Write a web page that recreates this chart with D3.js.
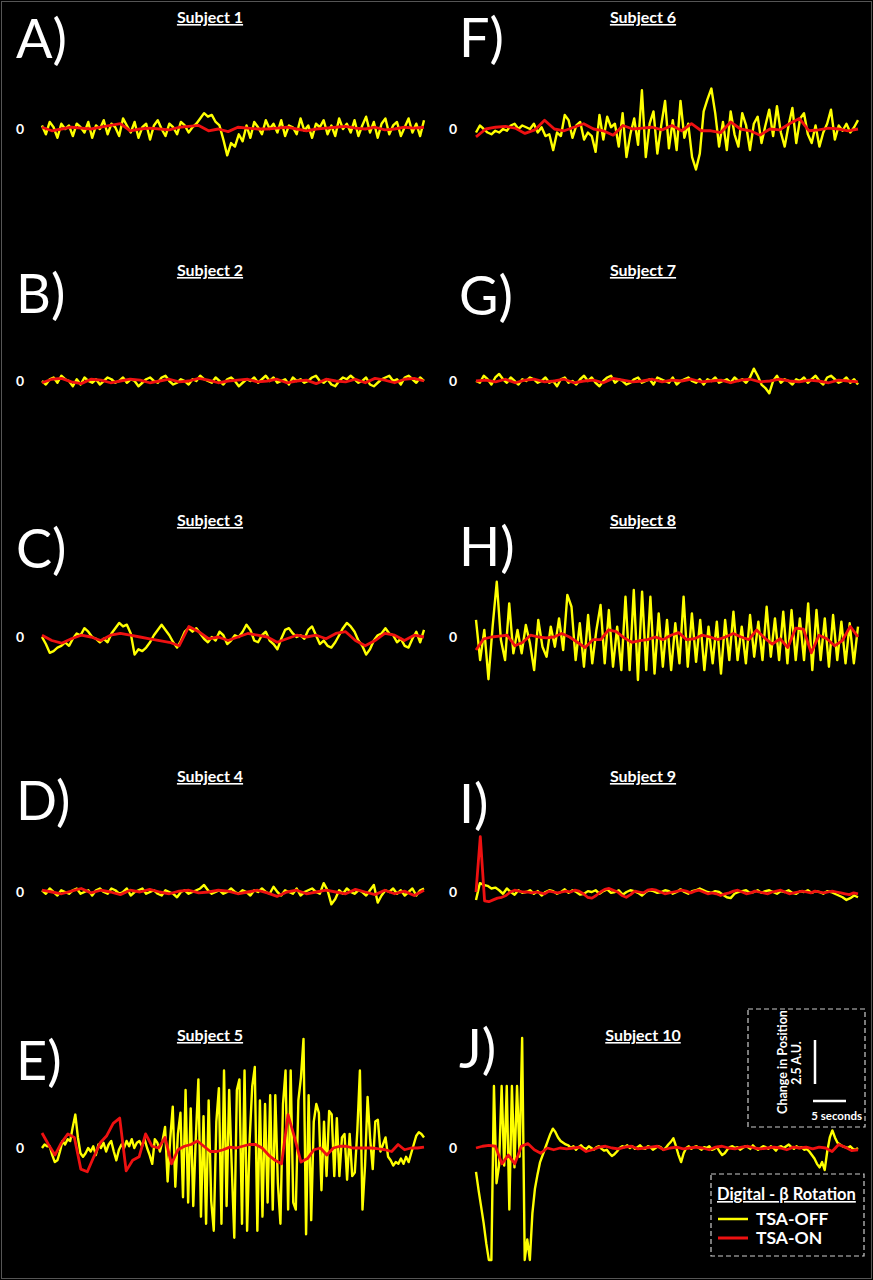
<!DOCTYPE html>
<html>
<head>
<meta charset="utf-8">
<script src="https://cdn.jsdelivr.net/npm/d3@7"></script>
<style>
    body { margin: 0; background: #000; }
    svg { display: block; }
</style>
</head>
<body>
<script>
// data (A.U., one value per sample, samples spread evenly over 60 s)

var letters = ['A)', 'B)', 'C)', 'D)', 'E)', 'F)', 'G)', 'H)', 'I)', 'J)'];
var subjects = ['Subject 1', 'Subject 2', 'Subject 3', 'Subject 4', 'Subject 5',
    'Subject 6', 'Subject 7', 'Subject 8', 'Subject 9', 'Subject 10'];
var legendTitle = 'Digital - β Rotation';
var seriesNames = ['TSA-OFF', 'TSA-ON'];
var zeroLabel = '0';
var scaleBarAU = 2.5;
var scaleBarSec = 5;
var duration = 60;

var off1 = [0.2, -0.3, 0.4, 0.1, -0.5, 0.3, 0.0, 0.2, -0.4, 0.3,
    0.1, -0.2, 0.4, -0.5, 0.2, 0.0, 0.5, -0.3, 0.3, 0.1,
    -0.4, 0.6, 0.2, -0.2, 0.4, -0.5, 0.1, 0.3, -0.6, 0.2,
    0.5, 0.0, -0.4, 0.3, 0.1, -0.3, 0.4, 0.2, -0.2, 0.1,
    0.3, 0.6, 0.9, 0.7, 0.8, 0.4, 0.2, -0.6, -1.5, -0.8,
    -1.0, -0.3, -0.7, 0.2, -0.5, 0.4, 0.1, -0.3, 0.5, 0.0,
    0.3, -0.2, 0.5, -0.4, 0.2, 0.1, -0.3, 0.6, -0.1, 0.2,
    -0.5, 0.3, 0.1, 0.5, -0.3, 0.2, -0.4, 0.6, 0.0, 0.3,
    -0.2, 0.5, -0.4, 0.2, 0.7, -0.2, 0.4, -0.5, 0.3, 0.6,
    -0.3, 0.2, 0.4, -0.4, 0.1, 0.6, -0.2, 0.3, -0.4, 0.5];
var on1 = [0.1, -0.1, 0.0, 0.1, 0.05, 0.0, 0.1, 0.2, 0.3, -0.1,
    0.0, 0.05, 0.0, -0.05, 0.1, 0.15, 0.2, -0.1, 0.0, -0.15,
    0.1, 0.05, 0.0, 0.0, 0.05, 0.1, 0.0, -0.1, 0.0, 0.05,
    0.1, 0.15, 0.05, 0.0, 0.1, -0.05, 0.0, 0.1, 0.05, 0.1];

var off2 = [0.0, -0.2, 0.1, 0.2, -0.1, 0.3, 0.1, 0.0, -0.3, 0.1,
    -0.2, 0.2, 0.0, -0.1, 0.1, -0.2, 0.0, 0.2, 0.1, -0.1,
    0.0, 0.2, -0.1, 0.1, 0.0, -0.3, -0.1, 0.1, 0.2, 0.0,
    -0.1, 0.2, 0.3, 0.0, -0.2, -0.1, 0.1, 0.0, -0.2, 0.1,
    0.0, 0.3, 0.1, 0.0, -0.1, 0.2, 0.0, -0.2, 0.1, 0.2,
    0.0, -0.3, -0.1, 0.1, 0.0, 0.2, -0.1, 0.1, 0.3, 0.0,
    0.2, -0.1, 0.0, 0.1, -0.2, 0.2, 0.0, 0.1, -0.1, 0.0,
    0.2, 0.3, 0.0, -0.1, 0.1, -0.2, -0.3, 0.0, 0.2, 0.1,
    0.3, 0.1, -0.1, 0.0, 0.2, -0.2, -0.3, -0.1, 0.1, 0.2,
    0.3, 0.0, 0.1, -0.2, 0.2, 0.3, 0.1, -0.1, 0.2, 0.0];
var on2 = [-0.1, 0.1, 0.15, -0.05, -0.15, 0.1, 0.05, -0.1, 0.0, 0.1,
    0.05, -0.1, 0.0, 0.1, -0.05, 0.0, 0.15, 0.05, -0.1, 0.0,
    0.05, 0.1, -0.05, 0.0, 0.1, -0.1, 0.0, 0.05, -0.15, 0.1,
    0.0, -0.05, 0.1, -0.1, 0.15, 0.05, -0.1, 0.1, 0.15, 0.0];

var off3 = [0.0, -0.4, -0.9, -0.8, -0.6, -0.5, -0.3, -0.5, -0.1, 0.2,
    0.1, 0.5, 0.3, 0.0, -0.1, -0.3, -0.1, -0.3, 0.2, 0.5,
    0.8, 0.6, 0.7, 0.2, -1.0, -0.7, -0.8, -0.6, -0.3, 0.1,
    0.4, 0.7, 0.4, 0.1, -0.3, -0.6, -0.2, 0.3, 0.5, 0.3,
    0.5, 0.2, -0.1, -0.3, 0.0, -0.2, 0.3, 0.1, -0.4, -0.2,
    0.1, 0.0, 0.3, 0.7, 0.4, -0.2, -0.3, 0.1, 0.3, -0.2,
    -0.4, -0.7, -0.1, 0.4, 0.5, 0.2, 0.0, 0.1, -0.1, 0.4,
    0.6, 0.1, -0.4, -0.2, -0.5, -0.6, -0.3, 0.1, 0.5, 0.8,
    0.6, 0.3, -0.2, -0.5, -1.0, -0.7, -0.2, 0.1, 0.2, 0.5,
    0.2, 0.1, -0.3, -0.1, -0.5, -0.6, -0.1, 0.3, -0.3, 0.4];
var on3 = [0.1, -0.2, -0.35, -0.1, 0.1, 0.0, -0.2, 0.1, 0.2, 0.1,
    0.0, -0.1, -0.2, -0.3, -0.5, 0.6, 0.3, -0.1, 0.0, -0.2,
    0.0, 0.2, 0.1, 0.0, -0.3, -0.1, 0.1, 0.0, 0.1, -0.1,
    0.2, 0.3, -0.2, -0.5, -0.2, 0.2, 0.1, -0.2, 0.1, 0.0];

var off4 = [0.1, -0.1, 0.2, 0.0, -0.2, 0.1, 0.0, -0.1, 0.1, 0.2,
    -0.1, 0.0, 0.1, -0.2, 0.1, 0.2, 0.0, -0.1, 0.2, 0.1,
    -0.1, 0.0, 0.2, -0.2, 0.0, 0.1, 0.2, -0.1, 0.0, 0.1,
    -0.1, -0.2, 0.1, 0.0, -0.1, -0.3, 0.0, 0.1, -0.1, 0.0,
    0.1, 0.2, 0.4, 0.1, -0.1, 0.0, 0.1, -0.1, 0.0, 0.2,
    0.0, -0.1, 0.1, 0.0, -0.2, 0.1, 0.0, 0.2, 0.0, -0.1,
    0.3, 0.0, -0.2, 0.1, 0.0, -0.1, 0.2, -0.2, 0.0, 0.1,
    0.2, 0.0, -0.1, 0.5, 0.1, -0.7, -0.4, 0.1, -0.1, 0.2,
    0.0, -0.1, 0.1, 0.0, -0.2, 0.1, 0.4, -0.6, -0.2, 0.1,
    0.0, 0.2, -0.1, 0.1, -0.2, 0.0, 0.2, -0.2, 0.1, 0.2];
var on4 = [0.1, 0.0, -0.1, 0.05, 0.2, -0.05, 0.1, 0.0, -0.15, 0.1,
    0.0, 0.15, 0.0, -0.1, 0.05, 0.1, -0.05, 0.0, 0.1, 0.05,
    -0.1, 0.0, 0.1, -0.05, -0.25, 0.0, 0.1, -0.1, 0.0, 0.1,
    0.0, -0.1, 0.15, 0.0, -0.15, 0.1, -0.1, 0.05, -0.2, 0.1];

var off5 = [0.0, 0.2, 0.1, 0.1, -0.4, -0.8, -0.7, -0.2, 0.4, 0.2,
    0.5, 0.4, 1.2, 1.9, 0.6, -0.3, -0.5, -0.3, 0.0, -0.2,
    0.1, -0.4, 0.2, 0.0, 0.3, -0.2, 0.2, 0.4, -0.2, -0.7,
    -0.1, 0.2, 0.0, 0.4, 0.1, 0.5, 0.0, 0.3, 0.4, 0.1,
    0.5, 0.0, -0.4, -0.9, 0.5, 0.3, -0.2, 0.4,
    1.2, -1.9, 0.5, 2.35, -2.2, 0.8, 2.0, -2.8, 3.3, -3.1,
    2.25, -3.3, 0.6, 3.9, -3.9, 1.8, -4.3, 2.7, -3.0, -4.7,
    1.5, 3.4, -4.3, 4.4, -3.3, 3.3, -1.0, -5.1, 3.3, 3.9,
    -4.3, 4.4, -4.7, 0.5, 3.5, 4.6, -4.7, 2.7, -3.9, 2.5,
    -3.1, 3.0, -3.5, 3.0, -2.0, -4.3, 2.5, 4.4, -3.5, 4.4,
    -3.1, -3.5, 2.7, 4.0, 6.2, -4.9, 3.0, -4.1, 1.5, 2.5,
    2.0, -2.4, 1.5, -1.6, 2.1, 1.9, -1.6, 1.7, -1.6, 0.6,
    0.8, -1.8, 0.8, -1.6, -1.4, 1.0, 4.4, -3.5, -1.0, 2.9,
    0.5, -1.2, 1.5, 1.6, -0.2, 0.2, 0.6, -0.5, -0.7, -1.0,
    -0.8, -0.9, -0.6, -0.9, -0.5, -0.8, -0.3, 0.2, 0.7, 0.9, 0.8, 0.6];
var on5 = [0.85, 0.2, -0.4, 0.3, 0.8, 0.6, -1.2, -1.35, -0.5, 0.3,
    0.7, 1.4, 1.7, -1.3, -0.7, -0.5, 0.8, 0.1, 0.0, 0.6,
    -0.9, -0.1, 0.1, 0.2, 0.4, 0.1, -0.2, -0.2, -0.1, 0.05,
    0.0, 0.1, 0.2, 0.2, 0.0, -0.4, -0.7, -0.9, 1.9, 0.6,
    -0.8, -0.6, -0.1, 0.0, -0.4, 0.0, 0.1, 0.1, 0.0, 0.0,
    0.0, 0.0, -0.05, -0.1, -0.2, 0.2, -0.1, 0.0, 0.0, 0.05];

var off6 = [-0.2, 0.2, 0.0, -0.2, -0.3, -0.1, -0.2, 0.0, -0.1, 0.2,
    0.3, 0.0, 0.2, 0.1, 0.0, 0.3, -0.2, 0.1, -0.4, -0.3,
    -1.2, -0.2, -0.4, 0.8, 0.5, -0.5, 0.2, 0.4, -0.6, -0.2,
    -0.4, -1.3, 0.8, -0.6, 0.7, 0.1, 0.3, -1.0, 0.9, -1.6,
    -0.3, 0.6, -0.9, 2.2, -1.6, 0.3, 1.0, -1.4, 0.2, 1.6,
    -1.1, 0.5, -1.2, 1.6, -0.5, 0.3, -1.6, -2.3, -1.4, 1.0,
    1.7, 2.3, 0.9, -1.0, 0.4, -1.2, 1.0, -0.3, -1.0, 0.9,
    0.2, -1.2, 0.3, 0.7, -0.8, 0.2, 1.1, -0.4, 1.3, -0.2,
    -1.0, 0.2, 1.2, -0.8, 0.6, 0.9, -0.3, -0.8, 0.2, -1.0,
    -0.2, 0.3, 1.1, -0.6, 0.2, -0.1, 0.3, -0.2, 0.1, 0.5];
var on6 = [-0.45, 0.0, 0.1, 0.15, 0.05, -0.25, -0.05, 0.5, 0.0, -0.1,
    0.1, 0.3, 0.0, -0.1, -0.35, 0.2, 0.0, 0.05, 0.1, -0.05,
    0.2, -0.1, 0.3, -0.1, -0.1, -0.2, 0.4, 0.0, -0.1, -0.35,
    0.0, -0.05, 0.3, 0.6, -0.1, -0.05, 0.05, 0.0, -0.1, 0.0];

var off7 = [0.0, -0.1, 0.3, 0.1, -0.2, 0.2, 0.4, 0.1, -0.1, 0.2,
    0.0, -0.2, 0.1, 0.0, 0.2, 0.1, -0.1, 0.0, 0.2, -0.1,
    0.0, -0.3, 0.1, 0.2, -0.1, 0.0, -0.2, 0.1, 0.3, 0.0,
    0.2, -0.1, -0.3, 0.0, 0.2, 0.3, -0.1, 0.1, 0.0, -0.2,
    -0.1, 0.1, 0.2, -0.1, 0.0, 0.1, -0.2, 0.2, 0.1, 0.0,
    -0.1, 0.2, -0.2, 0.0, 0.1, 0.2, 0.0, -0.1, 0.1, -0.2,
    0.1, 0.0, 0.2, -0.1, 0.0, 0.1, -0.1, 0.2, 0.0, 0.1,
    -0.1, 0.2, 0.7, 0.3, -0.2, -0.4, -0.7, 0.0, 0.3, -0.1,
    0.1, 0.0, -0.2, 0.1, 0.0, 0.2, -0.1, 0.1, 0.3, 0.0,
    -0.2, 0.2, 0.3, 0.1, -0.1, 0.0, 0.2, -0.1, 0.1, -0.2];
var on7 = [0.0, 0.05, -0.05, 0.1, -0.1, 0.05, 0.1, -0.05, 0.0, 0.1,
    -0.1, 0.0, 0.05, -0.1, 0.15, 0.05, -0.05, 0.0, 0.1, -0.05,
    0.05, 0.0, 0.1, -0.05, 0.0, 0.05, -0.1, 0.05, 0.1, -0.05,
    0.0, 0.1, 0.0, -0.05, 0.05, 0.0, -0.1, 0.05, 0.0, -0.05];

var off8 = [0.97, -1.31, 0.40, -2.4, 0.59, 3.14, -0.17, -1.31, 1.91, -0.93,
    0.40, -0.93, 0.68, -0.36, -1.88, 0.97, -0.55, -1.12, 0.59, -0.55,
    1.06, -0.74, 2.39, 1.72, -1.31, 0.78, -1.69, 1.25, -1.5, 0.40,
    1.82, -1.5, 1.53, -1.69, 0.59, -1.88, 2.29, -1.88, 2.67, -2.44,
    2.58, -1.88, 2.29, -2.08, 1.34, -1.69, 0.97, -1.88, 0.78, -1.5,
    2.29, -1.69, 1.34, -1.41, 0.97, -1.88, 0.59, -1.5, 0.87, -2.08,
    0.97, -1.31, 1.44, -1.31, 0.59, -1.5, 1.25, -1.12, 0.87, -1.31,
    1.72, -1.12, 1.06, -1.31, 1.44, -1.5, 1.53, -1.31, 1.06, -1.31,
    1.91, -1.88, 1.53, -1.31, 1.06, -1.69, 1.25, -1.31, 0.87, -1.5,
    0.78, -1.5, 0.59];
var on8 = [-0.74, -0.1, 0.0, 0.05, 0.1, -0.5, -0.3, 0.1, 0.0, -0.05,
    0.0, 0.2, 0.0, -0.3, -0.6, -0.15, -0.15, 0.4, 0.3, -0.05,
    -0.3, -0.2, -0.15, 0.0, -0.15, 0.1, 0.25, -0.15, -0.1, 0.1,
    0.0, -0.15, 0.0, 0.2, 0.0, -0.15, 0.4, -0.05, -0.4, -0.1,
    -0.6, 0.5, 0.45, -0.9, 0.1, -0.1, -0.5, -0.2, 0.6, 0.0];

var off9 = [-0.45, 0.5, 0.4, 0.35, 0.2, 0.25, 0.1, -0.1, 0.2, 0.0,
    -0.15, 0.1, -0.05, 0.0, 0.1, -0.1, 0.05, -0.2, 0.0, 0.1,
    0.05, -0.1, 0.0, 0.15, -0.05, 0.1, 0.0, -0.15, -0.1, 0.05,
    0.0, 0.1, -0.1, 0.05, 0.15, -0.05, 0.0, 0.1, -0.15, 0.0,
    0.1, 0.05, -0.05, -0.2, 0.0, 0.1, 0.05, -0.05, 0.0, 0.1,
    0.05, -0.1, 0.0, 0.15, 0.0, -0.1, 0.05, 0.1, 0.2, 0.1,
    0.0, -0.05, 0.05, 0.0, -0.15, -0.3, -0.35, -0.1, 0.0, 0.05,
    0.1, -0.05, 0.0, 0.1, -0.05, 0.05, 0.1, 0.0, -0.1, 0.05,
    0.0, 0.1, -0.05, -0.1, 0.05, 0.0, 0.1, -0.05, 0.05, 0.0,
    -0.1, 0.05, 0.0, -0.1, -0.2, -0.3, -0.45, -0.35, -0.2, -0.3];
var on9 = [0.0, 3.15, -0.5, -0.55, -0.45, -0.35, -0.3, -0.2, 0.0, 0.1,
    0.05, 0.0, 0.0, -0.05, 0.0, -0.05, -0.1, 0.05, 0.0, -0.05,
    0.0, 0.05, 0.0, 0.1, 0.05, -0.1, -0.3, -0.35, -0.2, 0.0,
    0.15, 0.2, 0.1, 0.0, -0.2, -0.3, -0.15, 0.05, 0.0, -0.05,
    0.1, 0.15, 0.1, 0.0, -0.1, -0.05, 0.0, 0.05, 0.1, 0.05,
    -0.05, 0.05, 0.1, 0.0, -0.1, -0.05, -0.1, -0.2, -0.1, -0.05,
    0.05, 0.1, 0.0, -0.1, -0.05, 0.05, 0.0, -0.05, -0.1, 0.0,
    0.05, 0.1, 0.0, -0.1, -0.05, 0.0, 0.05, 0.0, -0.05, 0.05,
    0.0, -0.05, 0.0, 0.05, 0.0, -0.05, -0.1, -0.15, -0.05, -0.1];

var off10 = [-1.36, -2.39, -3.33, -4.28, -5.42, -6.36, -6.36, 3.52, -2.0, -1.0,
    3.52, -1.0, 3.52, -3.5, 3.52, -1.1, 3.52, -0.5, 6.25, -6.36,
    -5.2, -6.36, -3.7, -2.3, -1.5, -0.8, -0.4, 0.0, 0.4, 0.8,
    1.1, 0.9, 0.6, 0.4, 0.3, 0.2, 0.15, 0.0,
    0.1, -0.1, 0.05, 0.15, 0.0, -0.05, 0.1, 0.0, -0.1, 0.05, 0.1, -0.05,
    -0.15, -0.1, -0.3, -0.45, -0.35, -0.2, 0.0, 0.1, 0.05, 0.15,
    0.0, 0.1, -0.05, 0.05, 0.15, 0.0, -0.05, 0.1, 0.05, -0.1,
    0.0, 0.1, 0.05, -0.1, 0.0, 0.2, 0.35, 0.55, 0.1, -0.4,
    -0.8, -0.3, 0.0, 0.1, -0.05, 0.05, 0.1, 0.0, -0.1, 0.05,
    0.0, 0.1, -0.1, -0.05, 0.05, -0.2, -0.4, -0.3, -0.1, 0.05,
    0.1, 0.0, 0.05, -0.1, 0.0, 0.1, 0.05, -0.05, 0.15, 0.0,
    -0.1, 0.0, 0.1, 0.05, -0.05, 0.1, 0.0, -0.15, 0.05, 0.1,
    0.0, 0.1, 0.2, 0.05, -0.05, 0.1, 0.0, 0.05, -0.1, -0.05,
    -0.2, -0.4, -0.6, -0.9, -1.1, -0.8, -1.25, -0.2, 0.6, 1.0,
    0.6, 0.3, 0.2, 0.1, 0.05, 0.0, 0.1, -0.05, -0.1, 0.0];
var on10 = [0.0, 0.1, 0.15, 0.1, -0.9, -0.4, -0.9, 0.1, 0.25, -0.1,
    -0.3, 0.0, -0.1, 0.0,
    -0.05, 0.0, 0.05, -0.2, -0.1, 0.05, 0.1, 0.0, -0.05, 0.05,
    0.1, -0.05, 0.0, 0.05, 0.1, -0.1, 0.0, 0.05, -0.05, 0.0,
    0.05, 0.0, -0.1, 0.05, 0.1, 0.0, -0.05, 0.05, 0.1, 0.0,
    -0.05, 0.0, 0.05, 0.0, -0.1, 0.05, 0.0, 0.05, -0.05, 0.05,
    0.0, -0.2, 0.2, 0.05, -0.15, -0.1];

var offSeries = [off1, off2, off3, off4, off5, off6, off7, off8, off9, off10];
var onSeries = [on1, on2, on3, on4, on5, on6, on7, on8, on9, on10];

// canvas

var width = 873;
var height = 1280;

var yellow = '#ffff00';
var red = '#ee1111';
var font = 'Lato, "Open Sans", sans-serif';

var canvas = d3.select('body')
    .append('svg')
    .attr('width', width)
    .attr('height', height)
    .style('background', '#000')

canvas.append('rect')
    .attr('x', 1.5)
    .attr('y', 1.5)
    .attr('width', width - 3)
    .attr('height', height - 3)
    .attr('fill', 'none')
    .attr('stroke', '#555')
    .attr('stroke-width', 1)

// panel layout
var colX = [[42, 424], [476, 858]];
var zeroLabelX = [20, 453];
var titleX = [210, 643];
var letterX = [16, 459];
var zeroY = [129, 381, 637, 892, 1148];
var titleY = [23, 276, 526, 782, 1041];
var letterY = [[58, 313, 568, 820, 1080], [57, 315, 566, 823, 1068]];

// 2.5 A.U. is 44 px tall
var pxPerAU = 44 / scaleBarAU;

function drawPanel(k) {
    var col = Math.floor(k / 5);
    var row = k % 5;
    var y0 = zeroY[row];

    var xScale = d3.scaleLinear()
        .domain([0, duration])
        .range(colX[col])

    var yScale = d3.scaleLinear()
        .domain([-1, 1])
        .range([y0 + pxPerAU, y0 - pxPerAU])

    function lineFor(values) {
        var step = duration / (values.length - 1);
        return d3.line()
            .x(function (d, i) { return xScale(i * step); })
            .y(function (d) { return yScale(d); })(values);
    }

    var g = canvas.append('g').attr('class', 'panel');

    g.append('path')
        .attr('d', lineFor(offSeries[k]))
        .attr('fill', 'none')
        .attr('stroke', yellow)
        .attr('stroke-width', 2.4)
        .attr('stroke-linejoin', 'round')

    g.append('path')
        .attr('d', lineFor(onSeries[k]))
        .attr('fill', 'none')
        .attr('stroke', red)
        .attr('stroke-width', 2.8)
        .attr('stroke-linejoin', 'round')

    g.append('text')
        .text(zeroLabel)
        .attr('x', zeroLabelX[col])
        .attr('y', yScale(0) + 5)
        .attr('text-anchor', 'middle')
        .attr('fill', '#fff')
        .style('font', 'bold 14px ' + font)

    g.append('text')
        .text(subjects[k])
        .attr('x', titleX[col])
        .attr('y', titleY[row])
        .attr('text-anchor', 'middle')
        .attr('fill', '#fff')
        .style('font', 'bold 16px ' + font)
        .style('text-decoration', 'underline')

    g.append('text')
        .text(letters[k])
        .attr('x', letterX[col])
        .attr('y', letterY[col][row])
        .attr('fill', '#fff')
        .style('font', '54px ' + font)
}

for (var k = 0; k < 10; k++) {
    drawPanel(k);
}

// scale bar box
var sb = canvas.append('g').attr('class', 'scalebar');
sb.append('rect')
    .attr('x', 748)
    .attr('y', 1009)
    .attr('width', 117)
    .attr('height', 118)
    .attr('fill', 'none')
    .attr('stroke', '#ccc')
    .attr('stroke-width', 1.2)
    .attr('stroke-dasharray', '5,3')

var barY = d3.scaleLinear().domain([0, scaleBarAU]).range([1084, 1040]);
var barX = d3.scaleLinear().domain([0, scaleBarSec]).range([813, 846]);

sb.append('line')
    .attr('x1', 815).attr('x2', 815)
    .attr('y1', barY(0)).attr('y2', barY(scaleBarAU))
    .attr('stroke', '#fff')
    .attr('stroke-width', 2.5)
sb.append('line')
    .attr('x1', barX(0)).attr('x2', barX(scaleBarSec))
    .attr('y1', 1101).attr('y2', 1101)
    .attr('stroke', '#fff')
    .attr('stroke-width', 2.5)

sb.append('text')
    .text(scaleBarSec + ' seconds')
    .attr('x', 862)
    .attr('y', 1120)
    .attr('text-anchor', 'end')
    .attr('fill', '#fff')
    .style('font', 'bold 11.5px ' + font)

sb.append('text')
    .text('Change in Position')
    .attr('transform', 'translate(787,1062) rotate(-90)')
    .attr('text-anchor', 'middle')
    .attr('fill', '#fff')
    .style('font', 'bold 12.5px ' + font)
sb.append('text')
    .text(scaleBarAU + ' A.U.')
    .attr('transform', 'translate(801,1063) rotate(-90)')
    .attr('text-anchor', 'middle')
    .attr('fill', '#fff')
    .style('font', 'bold 12.5px ' + font)

// legend
var lg = canvas.append('g').attr('class', 'legend');
lg.append('rect')
    .attr('x', 711)
    .attr('y', 1174)
    .attr('width', 153)
    .attr('height', 82)
    .attr('fill', 'none')
    .attr('stroke', '#ccc')
    .attr('stroke-width', 1.2)
    .attr('stroke-dasharray', '5,3')

lg.append('text')
    .text(legendTitle)
    .attr('x', 717)
    .attr('y', 1200)
    .attr('fill', '#fff')
    .style('font', 'bold 16.5px ' + font)
    .style('text-decoration', 'underline')

var legendColors = [yellow, red];
seriesNames.forEach(function (name, i) {
    var ly = 1219 + i * 19;
    lg.append('line')
        .attr('x1', 718).attr('x2', 748)
        .attr('y1', ly).attr('y2', ly)
        .attr('stroke', legendColors[i])
        .attr('stroke-width', i == 0 ? 2.5 : 3)
    lg.append('text')
        .text(name)
        .attr('x', 756)
        .attr('y', ly + 6)
        .attr('fill', '#fff')
        .style('font', 'bold 17.5px ' + font)
});
</script>
</body>
</html>
